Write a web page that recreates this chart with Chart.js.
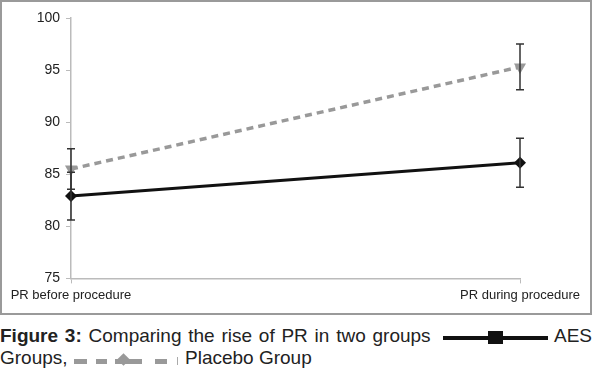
<!DOCTYPE html>
<html>
<head>
<meta charset="utf-8">
<script src="https://cdn.jsdelivr.net/npm/chart.js@4"></script>
<style>
    body { margin: 0; background: #fff; font-family: "Liberation Sans", Arial, sans-serif; }
    #wrap { position: relative; width: 592px; height: 374px; }
    #box { position: absolute; left: 0; top: 0; width: 592px; height: 315px; box-sizing: border-box; border: 2px solid #9a9a9a; }
    #box canvas { display: block; }
    .cap { position: absolute; font-size: 19px; line-height: 22px; color: #222; white-space: nowrap; }
    .mk { position: absolute; }
</style>
</head>
<body>
<div id="wrap">
    <div id="box"><canvas id="chart" width="588" height="311"></canvas></div>
    <div class="cap" style="left:0; top:325px; word-spacing:1.5px"><b>Figure 3:</b> Comparing the rise of PR in two groups</div>
    <div class="cap" style="right:0; top:325px">AES</div>
    <div class="cap" style="left:0; top:347px">Groups,</div>
    <div class="cap" style="left:185px; top:347px">Placebo Group</div>
    <div id="legend"></div>
</div>
<script>
// Data
const categories = ['PR before procedure', 'PR during procedure'];
const aesValues = [82.9, 86.1];
const aesErrors = [2.3, 2.35];
const placeboValues = [85.5, 95.3];
const placeboErrors = [1.95, 2.2];
const yTicks = [75, 80, 85, 90, 95, 100];

// caption legend glyphs (the picture's own little line samples)
const legendBits = [
    'left:443px; top:336px; width:105px; height:4px; background:#111',
    'left:488px; top:331px; width:15px; height:13px; background:#111',
    'left:74px; top:359px; width:13px; height:5px; background:#999',
    'left:96px; top:359px; width:11px; height:5px; background:#999',
    'left:115px; top:359px; width:27px; height:5px; background:#999',
    'left:119px; top:355px; width:9px; height:9px; background:#999; transform:rotate(45deg)',
    'left:155px; top:359px; width:12px; height:5px; background:#999',
    'left:177px; top:357px; width:1px; height:8px; background:#aaa'
];
document.getElementById('legend').innerHTML =
    legendBits.map(s => `<span class="mk" style="${s}"></span>`).join('');

// Simple error bar plugin, drawn through the chart's own scales
const errorBars = {
    id: 'errorBars',
    afterDatasetsDraw(chart) {
        const ctx = chart.ctx;
        const x = chart.scales.x;
        const y = chart.scales.y;
        ctx.save();
        chart.data.datasets.forEach(ds => {
            if (!ds.errors) return;
            ds.data.forEach((v, i) => {
                const px = x.getPixelForValue(i);
                const top = y.getPixelForValue(v + ds.errors[i]);
                const bot = y.getPixelForValue(v - ds.errors[i]);
                ctx.strokeStyle = '#333';
                ctx.lineWidth = 1.5;
                ctx.beginPath();
                ctx.moveTo(px, top); ctx.lineTo(px, bot);
                ctx.moveTo(px - 4, top); ctx.lineTo(px + 4, top);
                ctx.moveTo(px - 4, bot); ctx.lineTo(px + 4, bot);
                ctx.stroke();
            });
        });
        ctx.restore();
    }
};

new Chart(document.getElementById('chart'), {
    type: 'line',
    data: {
        labels: categories,
        datasets: [
            {
                label: 'Placebo Group',
                data: placeboValues,
                errors: placeboErrors,
                borderColor: '#999',
                backgroundColor: '#999',
                borderWidth: 3.5,
                borderDash: [7, 5],
                pointStyle: 'triangle',
                rotation: 180,
                pointRadius: 7,
                pointBorderWidth: 0
            },
            {
                label: 'AES Groups',
                data: aesValues,
                errors: aesErrors,
                borderColor: '#111',
                backgroundColor: '#111',
                borderWidth: 3,
                pointStyle: 'rectRot',
                pointRadius: 6,
                pointBorderWidth: 0
            }
        ]
    },
    options: {
        responsive: false,
        animation: false,
        layout: { padding: { top: 16, right: 70, left: 0, bottom: 6 } },
        plugins: { legend: { display: false }, tooltip: { enabled: false } },
        scales: {
            x: {
                offset: false,
                grid: { display: true, drawOnChartArea: false, drawTicks: true, tickLength: 5, color: '#bbb' },
                border: { color: '#bbb', width: 1.5 },
                ticks: { color: '#222', font: { family: 'Liberation Sans', size: 13 }, maxRotation: 0, padding: 4 }
            },
            y: {
                min: 75,
                max: 100,
                afterBuildTicks: axis => { axis.ticks = yTicks.map(v => ({ value: v })); },
                afterFit: axis => { axis.width = 69; },
                grid: { display: true, drawOnChartArea: false, drawTicks: true, tickLength: 5, color: '#bbb' },
                border: { color: '#bbb', width: 1.5 },
                ticks: { color: '#222', font: { family: 'Liberation Sans', size: 14 }, padding: 6 }
            }
        }
    },
    plugins: [errorBars]
});
</script>
</body>
</html>
